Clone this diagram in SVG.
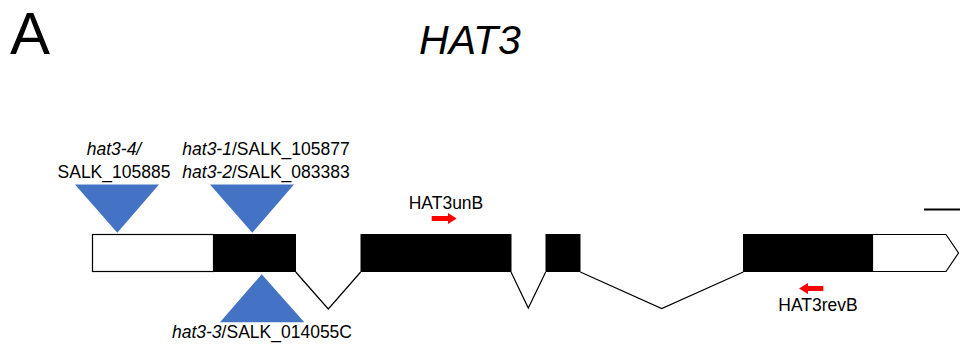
<svg xmlns="http://www.w3.org/2000/svg" width="960" height="350" viewBox="0 0 960 350">
  <style>
    .t { font-family: "Liberation Sans", Arial, sans-serif; font-size: 17.5px; fill: #000; }
    .i { font-style: italic; }
    .utr { fill: #fff; stroke: #000; stroke-width: 1.2; }
    .exon { fill: #000; stroke: #000; stroke-width: 1; }
    .ins { fill: #4472C4; }
    .intron { fill: none; stroke: #000; stroke-width: 1.2; }
    .primer { fill: #ff0000; }
  </style>
  <rect width="960" height="350" fill="#fff"/>
  <g id="title">
    <text x="10" y="54" style="font-family:'Liberation Sans',Arial,sans-serif;font-size:60px">A</text>
    <text x="470" y="54" text-anchor="middle" style="font-family:'Liberation Sans',Arial,sans-serif;font-size:41px;font-style:italic">HAT3</text>
  </g>
  <g id="scalebar">
    <line x1="924" y1="209.5" x2="960" y2="209.5" stroke="#000" stroke-width="2.2"/>
  </g>
  <g id="utr5">
    <rect class="utr" x="92.5" y="234.5" width="121" height="37"/>
  </g>
  <g id="exon1">
    <rect class="exon" x="213.5" y="234.5" width="82" height="37"/>
  </g>
  <g id="exon2">
    <rect class="exon" x="361" y="234.5" width="150" height="37"/>
  </g>
  <g id="exon3">
    <rect class="exon" x="546" y="234.5" width="34" height="37"/>
  </g>
  <g id="exon4">
    <rect class="exon" x="743.5" y="234.5" width="129" height="37"/>
  </g>
  <g id="utr3">
    <polygon class="utr" points="872.5,234.5 946,234.5 958.5,253 946,271.5 872.5,271.5"/>
  </g>
  <g id="connectors">
    <polyline class="intron" points="295.7,272 328.3,309 360.7,272"/>
    <polyline class="intron" points="511,272 528.3,308 545.7,272"/>
    <polyline class="intron" points="580.3,272 661.7,308.5 743.3,272"/>
  </g>
  <g id="hat3-4">
    <polygon class="ins" points="75,184.5 159,184.5 117.3,232.7"/>
    <text class="t i" x="114" y="155" text-anchor="middle">hat3-4/</text>
    <text class="t" x="114" y="177.5" text-anchor="middle">SALK_105885</text>
  </g>
  <g id="hat3-1-2">
    <polygon class="ins" points="210,184.5 294,184.5 252.3,232.7"/>
    <text class="t" x="266" y="155" text-anchor="middle"><tspan class="i">hat3-1</tspan>/SALK_105877</text>
    <text class="t" x="266" y="177.5" text-anchor="middle"><tspan class="i">hat3-2</tspan>/SALK_083383</text>
  </g>
  <g id="hat3-3">
    <polygon class="ins" points="261.7,274.3 304.3,322.3 220,322.3"/>
    <text class="t" x="262" y="337.5" text-anchor="middle"><tspan class="i">hat3-3</tspan>/SALK_014055C</text>
  </g>
  <g id="HAT3unB">
    <text class="t" x="446" y="209" text-anchor="middle">HAT3unB</text>
    <polygon class="primer" points="431.7,216 448,216 448,213 456.7,218.5 448,224 448,221 431.7,221"/>
  </g>
  <g id="HAT3revB">
    <polygon class="primer" points="823.3,286 808,286 808,283 799,288.5 808,294 808,291 823.3,291"/>
    <text class="t" x="818" y="311" text-anchor="middle">HAT3revB</text>
  </g>
</svg>
